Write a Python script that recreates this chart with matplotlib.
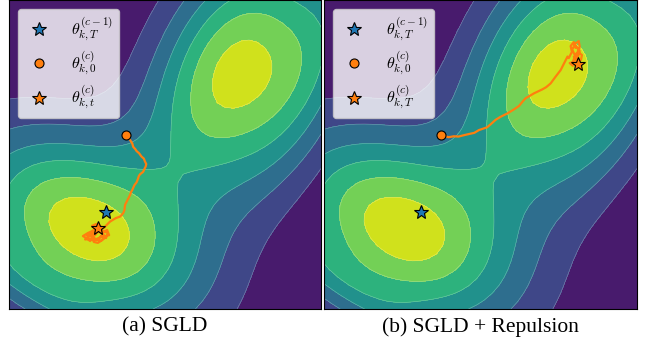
import numpy as np
import matplotlib
matplotlib.use("Agg")
import matplotlib.pyplot as plt

plt.rcParams['mathtext.fontset'] = 'cm'

# ---- landscape: Gaussian mixture (peak heights in contour-level units)
comp_means = [(-2.62, -2.41), (-5.71, -3.26), (2.14, 2.69), (4.79, 2.72)]
comp_stds = [(2.56, 2.19), (3.17, 2.13), (1.89, 2.67), (1.67, 3.00)]
comp_corrs = [-0.343, -0.946, 0.390, 0.687]
comp_peaks = [6.540, 1.202, 6.229, 2.340]
levels = [0, 1, 2, 3, 4, 5, 6, 7]

# ---- key points
prev_end = (-1.89, -1.87)      # theta_{k,T}^{(c-1)}
start = (-1.26, 0.63)          # theta_{k,0}^{(c)}
end_a = (-2.14, -2.39)         # SGLD end
end_b = (3.10, 2.92)           # SGLD + repulsion end

# ---- trajectories
traj_a_x = [-1.26, -1.18, -1.12, -1.05, -1.02, -0.95, -0.91, -0.83, -0.75, -0.68, -0.64, -0.60,
            -0.62, -0.66, -0.70, -0.80, -0.84, -0.86, -0.91, -0.98, -1.05, -1.09, -1.12, -1.20,
            -1.28, -1.30, -1.34, -1.44, -1.58, -1.76, -1.87,
            -1.96, -2.08, -1.99, -1.83, -1.89, -2.05, -2.18, -2.31, -2.40, -2.53, -2.63, -2.47,
            -2.34, -2.24, -2.34, -2.21, -2.12, -2.24, -2.37, -2.28, -2.15, -2.02, -1.92, -1.79,
            -1.86, -1.99, -2.12, -2.21, -2.08, -2.20, -2.30, -2.45, -2.56, -2.42, -2.27, -2.10,
            -1.98, -2.05, -2.14, -2.00, -1.90, -2.06, -2.25, -2.38, -2.50, -2.33, -2.18, -2.14]
traj_a_y = [0.63, 0.55, 0.47, 0.36, 0.25, 0.17, 0.11, 0.04, -0.07, -0.13, -0.23, -0.31,
            -0.39, -0.47, -0.56, -0.64, -0.70, -0.77, -0.90, -0.99, -1.15, -1.22, -1.31, -1.47,
            -1.63, -1.80, -1.90, -2.01, -2.06, -2.17, -2.28,
            -2.38, -2.31, -2.48, -2.54, -2.70, -2.64, -2.77, -2.70, -2.80, -2.70, -2.64, -2.54,
            -2.48, -2.41, -2.31, -2.25, -2.44, -2.61, -2.64, -2.83, -2.86, -2.77, -2.64, -2.61,
            -2.44, -2.54, -2.51, -2.35, -2.41, -2.50, -2.58, -2.66, -2.75, -2.73, -2.76, -2.70,
            -2.62, -2.50, -2.42, -2.57, -2.68, -2.80, -2.72, -2.58, -2.62, -2.55, -2.47, -2.39]

traj_b_x = [-1.25, -1.02, -0.85, -0.70, -0.55, -0.38, -0.20, -0.05, 0.21, 0.35, 0.48, 0.64,
            0.86, 1.07, 1.23, 1.35, 1.44, 1.71, 1.98, 2.10, 2.24, 2.40, 2.56, 2.67, 2.78,
            2.82, 2.92, 2.88, 2.98, 3.04, 3.01, 3.14, 3.17, 3.11, 3.24, 3.21, 3.08, 2.98,
            3.11, 3.17, 3.04, 2.95, 2.85, 2.95, 3.08, 2.93, 3.02, 3.12, 3.10]
traj_b_y = [0.63, 0.56, 0.59, 0.58, 0.62, 0.66, 0.70, 0.79, 0.88, 1.00, 1.12, 1.22,
            1.33, 1.46, 1.57, 1.72, 1.82, 1.98, 2.11, 2.18, 2.30, 2.52, 2.73, 2.95, 3.17,
            3.12, 3.32, 3.51, 3.64, 3.45, 3.58, 3.67, 3.48, 3.32, 3.22, 3.06, 2.99, 3.16,
            3.16, 3.35, 3.25, 2.99, 2.96, 2.87, 3.06, 3.40, 3.55, 3.42, 3.00]

legend_a = [r'$\theta_{k,T}^{(c-1)}$', r'$\theta_{k,0}^{(c)}$', r'$\theta_{k,t}^{(c)}$']
legend_b = [r'$\theta_{k,T}^{(c-1)}$', r'$\theta_{k,0}^{(c)}$', r'$\theta_{k,T}^{(c)}$']
captions = ['(a) SGLD', '(b) SGLD + Repulsion']

# ---- surface
gx = np.linspace(-5, 5, 40)
gy = np.linspace(-5, 5, 40)
X, Y = np.meshgrid(gx, gy)
Z = np.zeros_like(X)
for m, s, r, p in zip(comp_means, comp_stds, comp_corrs, comp_peaks):
    dx = (X - m[0]) / s[0]
    dy = (Y - m[1]) / s[1]
    q = (dx * dx - 2 * r * dx * dy + dy * dy) / (1 - r * r)
    Z += p * np.exp(-0.5 * q)

fig = plt.figure(figsize=(6.51, 3.47), dpi=100)
axes = [fig.add_axes([9 / 651, 38 / 347, 312 / 651, 309 / 347]),
        fig.add_axes([324 / 651, 38 / 347, 313 / 651, 309 / 347])]

trajs = [(traj_a_x, traj_a_y, end_a, legend_a), (traj_b_x, traj_b_y, end_b, legend_b)]
for ax, (tx, ty, end, labels), cap in zip(axes, trajs, captions):
    ax.contourf(X, Y, Z, levels=levels, cmap='viridis')
    ax.contour(X, Y, Z, levels=levels[1:-1], colors='white', linewidths=0.4, alpha=0.35)
    ax.plot(tx, ty, color='tab:orange', lw=1.6, zorder=3, solid_joinstyle='round')
    ax.plot([prev_end[0]], [prev_end[1]], linestyle='none', marker='*', ms=10.5,
            mfc='tab:blue', mec='black', mew=0.8, label=labels[0], zorder=5)
    ax.plot([start[0]], [start[1]], linestyle='none', marker='o', ms=6.5,
            mfc='tab:orange', mec='black', mew=0.8, label=labels[1], zorder=5)
    ax.plot([end[0]], [end[1]], linestyle='none', marker='*', ms=10.5,
            mfc='tab:orange', mec='black', mew=0.8, label=labels[2], zorder=5)
    ax.set_xlim(-5, 5)
    ax.set_ylim(-5, 5)
    ax.set_xticks([])
    ax.set_yticks([])
    for s in ax.spines.values():
        s.set_linewidth(0.8)
    ax.legend(loc='upper left', fontsize=11.5, labelspacing=0.45, borderpad=0.42,
              handletextpad=1.1, borderaxespad=0.55, handlelength=1.8)
    pos = ax.get_position()
    fig.text((pos.x0 + pos.x1) / 2, 20 / 347, cap, ha='center', va='center',
             fontsize=15.5, family='Liberation Serif')

fig.savefig('out.png', dpi=100)
